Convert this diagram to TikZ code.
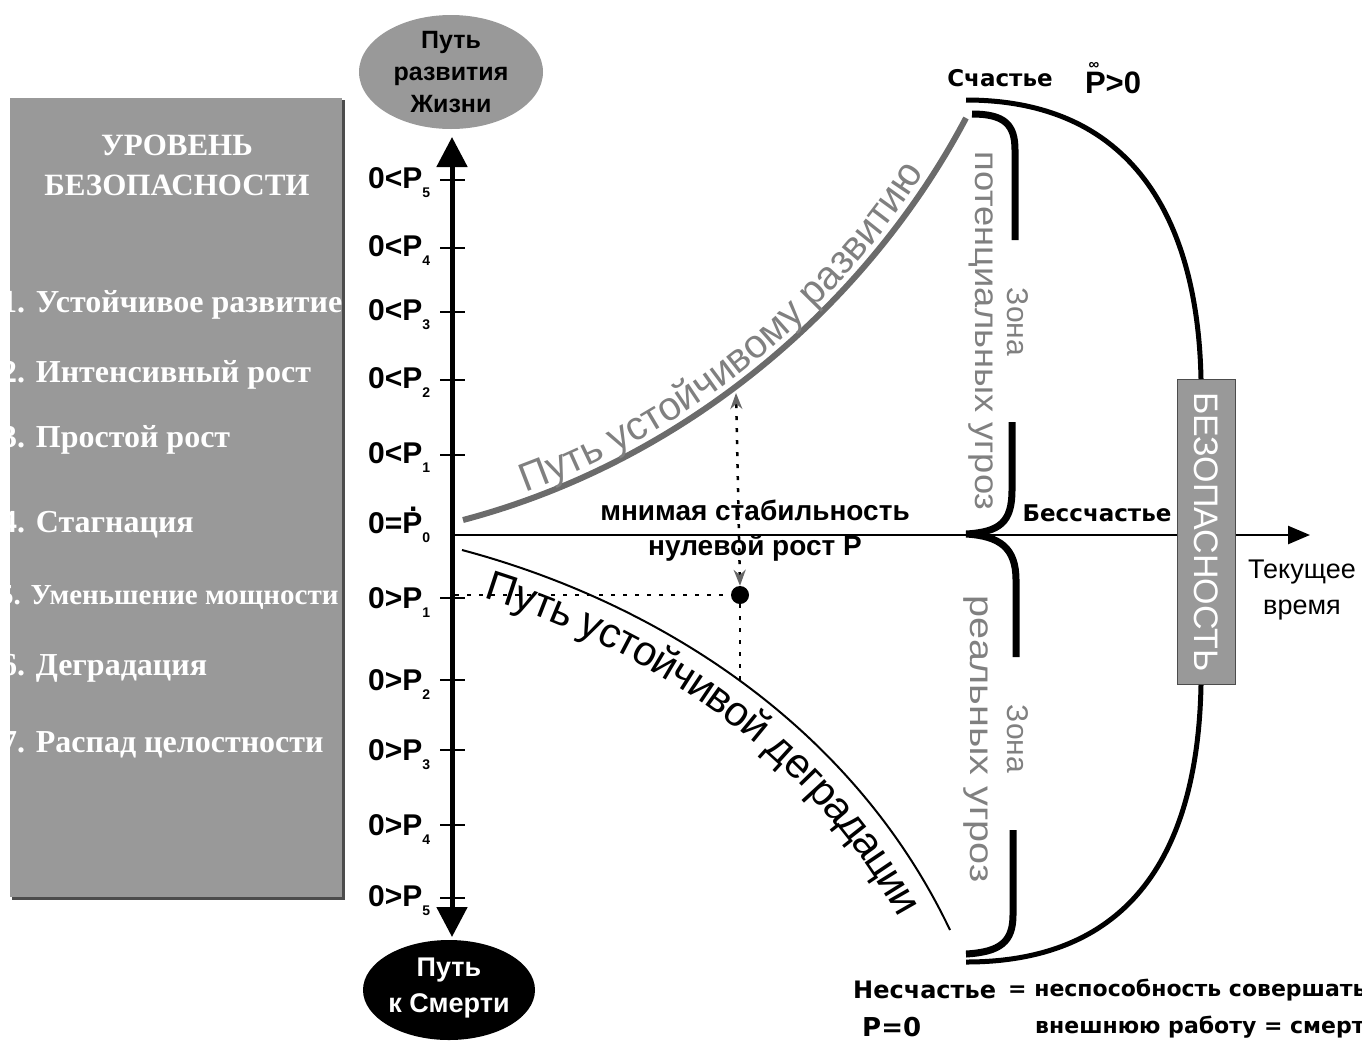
\documentclass[tikz,border=0pt]{standalone}
\usepackage{fontspec}
\setmainfont{Liberation Serif}
\setsansfont{Liberation Sans}
\newfontfamily\comic{DejaVu Sans}
\usetikzlibrary{arrows.meta,decorations.text}
\newcommand{\fsz}[2]{\fontsize{#1}{#2}\selectfont}
\newcommand{\sub}[1]{\raisebox{-0.3em}{\fsz{14}{14}#1}}
\definecolor{panelgray}{gray}{0.6}
\definecolor{curvegray}{gray}{0.42}
\definecolor{txtgray}{gray}{0.5}

\begin{document}
\begin{tikzpicture}[x=1pt,y=-1pt,
    lvl/.style={anchor=west,text=white,font=\bfseries\fsz{32}{32}},
    lbl/.style={anchor=west,font=\sffamily\bfseries\fsz{30}{30}},
    zone/.style={rotate=-90,text=txtgray,font=\sffamily\fsz{30}{30}},
    zonetxt/.style={rotate=-90,transform shape,xscale=#1,text=txtgray,font=\sffamily\fsz{33}{33}},
    dots/.style={line width=2.5pt,dash pattern=on 4pt off 8pt},
    brace/.style={line width=7pt}]
    \tikzstyle{every node}+=[inner sep=0pt]
    \useasboundingbox (0,0) rectangle (1362,1045);
    % levels panel
    \fill[black!70] (12,100) rectangle (345,900);
    \fill[panelgray] (10,98) rectangle (342,897);
    \node[text=white,font=\bfseries\fsz{31}{40},align=center] (title) at (177,165) {УРОВЕНЬ\\БЕЗОПАСНОСТИ};
    \node[lvl] (lev1) at (1,305) {1. Устойчивое развитие};
    \node[lvl] (lev2) at (1,375) {2. Интенсивный рост};
    \node[lvl] (lev3) at (1,440) {3. Простой рост};
    \node[lvl] (lev4) at (1,525) {4. Стагнация};
    \node[lvl,font=\bfseries\fsz{29}{29}] (lev5) at (-1,598) {5. Уменьшение мощности};
    \node[lvl] (lev6) at (1,668) {6. Деградация};
    \node[lvl] (lev7) at (1,745) {7. Распад целостности};
    % vertical axis
    \fill[panelgray] (451,72) ellipse [x radius=92, y radius=57];
    \node[align=center,font=\sffamily\bfseries\fsz{25}{32}] (life) at (451,72) {Путь\\развития\\Жизни};
    \fill[black] (449,990) ellipse [x radius=86, y radius=50];
    \node[align=center,text=white,font=\sffamily\bfseries\fsz{27}{36}] (death) at (449,988) {Путь\\к Смерти};
    \coordinate (top) at (452,137);
    \coordinate (bot) at (452,937);
    \draw[line width=5pt,{Triangle[length=30pt,width=30pt]}-{Triangle[length=30pt,width=30pt]}] (bot) -- (top);
    \foreach \y in {180,248,312,380,455,598,680,750,825,898}
        \draw[line width=2.5pt] (440,\y) -- (465,\y);
    \foreach \y/\i in {183/5,251/4,315/3,383/2,458/1}
        \node[lbl] (pos\i) at (368,\y) {0<P\sub{\i}};
    \node[lbl] (zero) at (368,525) {0=\rlap{\raisebox{0.75em}{\hspace{0.22em}.}}P\sub{0}};
    \foreach \y/\i in {603/1,685/2,755/3,830/4,901/5}
        \node[lbl] (neg\i) at (368,\y) {0>P\sub{\i}};
    % time axis
    \coordinate (O) at (452,535);
    \coordinate (tEnd) at (1310,535);
    \draw[line width=2.5pt,-{Triangle[length=22pt,width=18pt]}] (O) -- (tEnd);
    % paths
    \draw[curvegray,line width=6pt] (463,520) .. controls (690,460) and (870,300) .. (966,118);
    \path[decorate,decoration={text along path,text align=center,raise=8pt,text color=txtgray,
        text={|\sffamily\fsz{40}{40}|Путь устойчивому развитию}}]
        (463,520) .. controls (690,460) and (870,300) .. (966,118);
    \draw[line width=2pt] (462,550) .. controls (650,600) and (850,720) .. (950,930);
    \path[decorate,decoration={text along path,text align=center,raise=-40pt,
        text={|\sffamily\fsz{42}{42}|Путь устойчивой деградации}}]
        (462,550) .. controls (650,600) and (850,720) .. (950,930);
    % zero growth
    \node[circle,fill=black,minimum size=18pt] (pt) at (740,595) {};
    \coordinate (hi) at (736,393);
    \coordinate (lo) at (740,682);
    \coordinate (p1) at (455,595);
    \draw[dots,{Stealth[length=16pt,width=12pt,black!60]}-{Stealth[length=16pt,width=12pt,black!60]}] (pt.north) -- (hi);
    \draw[dots] (pt.south) -- (lo);
    \draw[dots] (p1) -- (pt.west);
    \node[font=\sffamily\bfseries\fsz{28}{28}] (mnim) at (755,510) {мнимая стабильность};
    \node[font=\sffamily\bfseries\fsz{28}{28}] (nullg) at (755,548) {нулевой рост P};
    % right side
    \node[font=\comic\bfseries\fsz{23}{23}] (happy) at (1000,78) {Счастье};
    \node[font=\sffamily\bfseries\fsz{31}{31}] (pinf) at (1113,78) {\rlap{\raisebox{0.76em}{\hspace{0.12em}\fsz{15}{15}∞}}P>0};
    \node[draw=black!70,line width=1pt,fill=panelgray,minimum width=58pt,minimum height=305pt] (safe) at (1206,532) {};
    \node[rotate=-90,text=white,font=\sffamily\fsz{34}{34}] (safetxt) at (safe) {БЕЗОПАСНОСТЬ};
    \draw[line width=5pt] (966,100) .. controls (1140,100) and (1198,230) .. ([xshift=-5pt]safe.north);
    \draw[line width=5pt] ([xshift=-5pt]safe.south) .. controls (1198,840) and (1140,962) .. (966,962);
    \draw[brace] (972,114) .. controls (1005,114) and (1015,125) .. (1015,150) -- (1015,240);
    \draw[brace] (1012,422) -- (1012,490) .. controls (1012,522) and (1000,532) .. (966,534)
        .. controls (1000,536) and (1016,548) .. (1016,580) -- (1016,657);
    \draw[brace] (1013,830) -- (1013,915) .. controls (1013,942) and (1000,952) .. (966,954);
    \node[zone] (zone1) at (1018,322) {Зона};
    \node[zonetxt=1.1] (pot) at (981,331) {потенциальных угроз};
    \node[zone] (zone2) at (1018,739) {Зона};
    \node[zonetxt=1.2] (real) at (976,739) {реальных угроз};
    \node[font=\comic\bfseries\fsz{23}{23}] (nohappy) at (1097,513) {Бессчастье};
    \node[font=\sffamily\fsz{27}{36},align=center] (now) at (1302,590) {Текущее\\время};
    % bottom note
    \node[anchor=west,font=\comic\bfseries\fsz{24}{24}] (unhappy) at (853,990) {Несчастье};
    \node[anchor=west,font=\comic\bfseries\fsz{22}{22}] (def1) at (1008,990) {= неспособность совершать};
    \node[anchor=west,font=\comic\bfseries\fsz{26}{26}] (pzero) at (862,1027) {P=0};
    \node[anchor=west,font=\comic\bfseries\fsz{22}{22}] (def2) at (1035,1027) {внешнюю работу = смерть};
\end{tikzpicture}
\end{document}
